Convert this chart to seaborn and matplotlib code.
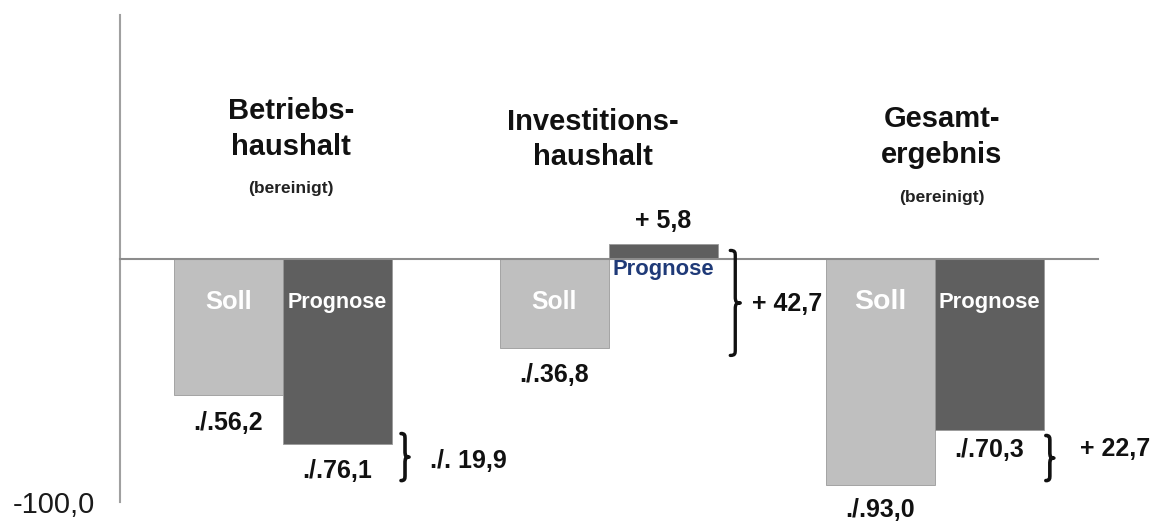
import numpy as np
import pandas as pd
import matplotlib
matplotlib.use("Agg")
import matplotlib.pyplot as plt
from matplotlib.path import Path
from matplotlib.patches import PathPatch
import seaborn as sns

# ---------------- data ----------------
bereiche = ["Betriebs-\nhaushalt", "Investitions-\nhaushalt", "Gesamt-\nergebnis"]
untertitel = ["(bereinigt)", "", "(bereinigt)"]
arten = ["Soll", "Prognose"]
soll = [-56.2, -36.8, -93.0]
prognose = [-76.1, 5.8, -70.3]
soll_labels = ["./.56,2", "./.36,8", "./.93,0"]
prognose_labels = ["./.76,1", "+ 5,8", "./.70,3"]
diff_labels = ["./. 19,9", "+ 42,7", "+ 22,7"]
y_ticks = [-100.0]
y_tick_labels = ["-100,0"]

df = pd.DataFrame({
    "Bereich": bereiche * 2,
    "Art": ["Soll"] * 3 + ["Prognose"] * 3,
    "Wert": soll + prognose,
})

# ---------------- style ----------------
sns.set_style("white")
plt.rcParams["font.family"] = ["Liberation Sans", "DejaVu Sans"]

SOLL_C = "#BFBFBF"
PROG_C = "#5F5F5F"
AXIS_C = "#A0A0A0"
NAVY = "#1F3A78"

fig = plt.figure(figsize=(11.64, 5.22), dpi=100)
ax = fig.add_axes([120 / 1164, 20 / 522, 978 / 1164, 487 / 522])

W = 0.67
sns.barplot(data=df, x="Bereich", y="Wert", hue="Art", hue_order=arten,
            palette={"Soll": SOLL_C, "Prognose": PROG_C}, saturation=1,
            width=W, dodge=True, legend=False, ax=ax,
            edgecolor="#9A9A9A", linewidth=0.6, errorbar=None)

ax.set_xlim(-0.5, 2.5)
ax.set_ylim(-100, 100)
ax.set_xlabel("")
ax.set_ylabel("")

# spines
for s in ["top", "right"]:
    ax.spines[s].set_visible(False)
ax.spines["left"].set_color(AXIS_C)
ax.spines["left"].set_linewidth(1.5)
ax.spines["bottom"].set_position(("data", 0))
ax.spines["bottom"].set_color("#8C8C8C")
ax.spines["bottom"].set_linewidth(1.5)
ax.spines["bottom"].set_zorder(5)

ax.set_xticks([0.5, 1.5, 2.5])
ax.set_xticklabels([])
ax.tick_params(axis="x", direction="out", length=6, width=1.2, color=AXIS_C)
ax.set_yticks(y_ticks)
ax.set_yticklabels(y_tick_labels, fontsize=21, color="#1A1A1A")
ax.tick_params(axis="y", direction="out", length=5, width=1.2, color=AXIS_C, pad=13)

half = W / 4  # bar centre offset

# titles (drawn line by line, baseline anchored)
titel_x = [0.025, 0.951, 2.02]
titel_y1 = [57.1, 52.6, 53.8]
titel_y2 = [42.3, 38.2, 39.4]
sub_y = [26.7, None, 23.0]
for i, t in enumerate(bereiche):
    l1, l2 = t.split("\n")
    ax.text(titel_x[i], titel_y1[i], l1, ha="center", va="baseline", fontsize=21,
            fontweight="bold", color="#111111")
    ax.text(titel_x[i], titel_y2[i], l2, ha="center", va="baseline", fontsize=21,
            fontweight="bold", color="#111111")
    if untertitel[i]:
        ax.text(titel_x[i], sub_y[i], untertitel[i], ha="center", va="baseline",
                fontsize=12.5, fontweight="bold", color="#222222")

# labels inside bars
soll_fs = [18.4, 17.7, 20.5]
prog_fs = [15.5, 15.8, 15.8]
for i in range(3):
    ax.text(i - half, -18, "Soll", ha="center", va="center", color="white",
            fontsize=soll_fs[i], fontweight="bold", zorder=6)
    if prognose[i] < 0:
        ax.text(i + half, -18, "Prognose", ha="center", va="center", color="white",
                fontsize=prog_fs[i], fontweight="bold", zorder=6)
    else:
        ax.text(i + half, -4.5, "Prognose", ha="center", va="center", color=NAVY,
                fontsize=prog_fs[i], fontweight="bold", zorder=6)

# value labels
val_fs = 18
soll_off = [-11.3, -11.0, -10.2]
for i in range(3):
    ax.text(i - half, soll[i] + soll_off[i], soll_labels[i], ha="center", va="center",
            fontsize=val_fs, fontweight="bold", color="#111111", clip_on=False)
    if prognose[i] < 0:
        off = -11 if i == 0 else -8.2
    else:
        off = 9.4
    ax.text(i + half, prognose[i] + off, prognose_labels[i], ha="center", va="center",
            fontsize=val_fs, fontweight="bold", color="#111111", clip_on=False)

# braces
px_x = 1 / 326.0
px_y = 1 / 2.435


def brace(x, ytop, ybot, wpx, lw):
    w = wpx * px_x
    ym = (ytop + ybot) / 2
    c = 6 * px_y
    verts = [
        (x, ytop),
        (x + w * 0.5, ytop), (x + w * 0.5, ytop - c * 0.3), (x + w * 0.5, ytop - c),
        (x + w * 0.5, ym + c),
        (x + w * 0.5, ym + c * 0.2), (x + w * 0.6, ym), (x + w, ym),
        (x + w * 0.6, ym), (x + w * 0.5, ym - c * 0.2), (x + w * 0.5, ym - c),
        (x + w * 0.5, ybot + c),
        (x + w * 0.5, ybot + c * 0.3), (x + w * 0.5, ybot), (x, ybot),
    ]
    codes = [Path.MOVETO,
             Path.CURVE4, Path.CURVE4, Path.CURVE4,
             Path.LINETO,
             Path.CURVE4, Path.CURVE4, Path.CURVE4,
             Path.CURVE4, Path.CURVE4, Path.CURVE4,
             Path.LINETO,
             Path.CURVE4, Path.CURVE4, Path.CURVE4]
    ax.add_patch(PathPatch(Path(verts, codes), fill=False, lw=lw, color="#111111",
                           capstyle="round", joinstyle="round", clip_on=False, zorder=6))


brace_x = [0.362, 1.372, 2.340]
brace_top = [-71.9, 3.3, -72.7]
brace_bot = [-91.2, -39.8, -91.2]
brace_w = [8, 10, 8]
brace_lw = [2.6, 2.4, 2.6]
diff_x = [0.452, 1.440, 2.446]
diff_y = [-83.0, -18.5, -78.4]
for i in range(3):
    brace(brace_x[i], brace_top[i], brace_bot[i], brace_w[i], brace_lw[i])
    ax.text(diff_x[i], diff_y[i], diff_labels[i], ha="left", va="center",
            fontsize=val_fs, fontweight="bold", color="#111111", clip_on=False)

fig.savefig("out.png", dpi=100)
